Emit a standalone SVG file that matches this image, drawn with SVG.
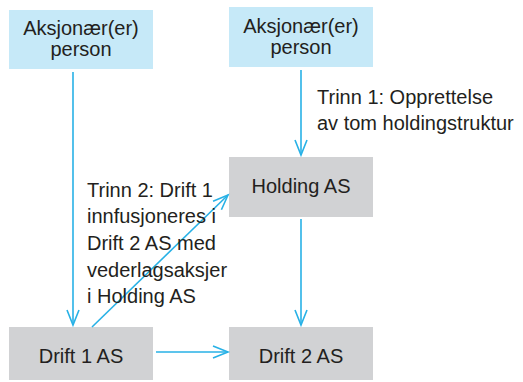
<svg xmlns="http://www.w3.org/2000/svg" width="523" height="382" viewBox="0 0 523 382">
<style>
.t{font-family:"Liberation Sans",Arial,sans-serif;font-size:20px;fill:#231f20}
.c{text-anchor:middle}
.blue{fill:#c6e9f8}
.grey{fill:#d1d2d4}
.ln{stroke:#27b1e6;stroke-width:1.6;fill:none;marker-end:url(#ah)}
</style>
<defs>
<marker id="ah" markerUnits="userSpaceOnUse" viewBox="-16 -8 18 16" refX="0" refY="0" markerWidth="18" markerHeight="16" orient="auto" overflow="visible">
<path d="M-15,-6 L0,0 L-15,6" fill="none" stroke="#27b1e6" stroke-width="1.6"/>
</marker>
</defs>
<g id="aksjonaer1">
<rect class="blue" x="9" y="10" width="144" height="59"/>
<text class="t c" x="81" y="35">Aksjonær(er)</text>
<text class="t c" x="81" y="56">person</text>
</g>
<g id="aksjonaer2">
<rect class="blue" x="229" y="7" width="144" height="60"/>
<text class="t c" x="301" y="33">Aksjonær(er)</text>
<text class="t c" x="301" y="54">person</text>
</g>
<g id="holding">
<rect class="grey" x="229" y="157" width="144" height="60"/>
<text class="t c" x="301" y="193">Holding AS</text>
</g>
<g id="drift1">
<rect class="grey" x="9" y="327" width="144" height="53"/>
<text class="t c" x="81" y="363">Drift 1 AS</text>
</g>
<g id="drift2">
<rect class="grey" x="229" y="327" width="144" height="53"/>
<text class="t c" x="301" y="363">Drift 2 AS</text>
</g>
<g id="connectors">
<line class="ln" x1="73" y1="72" x2="73" y2="325"/>
<line class="ln" x1="301" y1="70" x2="301" y2="155"/>
<line class="ln" x1="301" y1="219" x2="301" y2="325"/>
<line class="ln" x1="156" y1="352" x2="228" y2="352"/>
<line class="ln" x1="92" y1="327" x2="228" y2="195"/>
</g>
<g id="labels">
<text class="t" x="317" y="104">Trinn 1: Opprettelse</text>
<text class="t" x="317" y="130">av tom holdingstruktur</text>
<text class="t" x="87" y="197">Trinn 2: Drift 1</text>
<text class="t" x="87" y="223">innfusjoneres i</text>
<text class="t" x="87" y="250">Drift 2 AS med</text>
<text class="t" x="87" y="277">vederlagsaksjer</text>
<text class="t" x="87" y="303">i Holding AS</text>
</g>
</svg>
